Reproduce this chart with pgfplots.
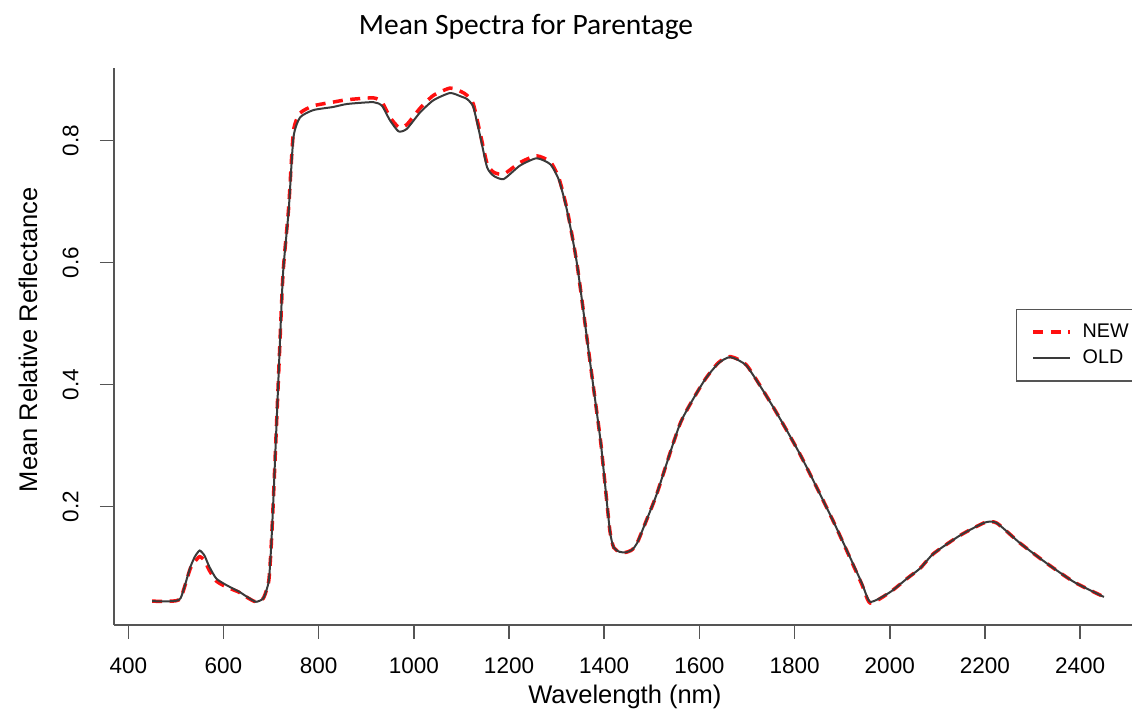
\documentclass[border=0pt]{standalone}
\usepackage{fontspec}
\setmainfont{Liberation Sans}
\newfontfamily\titlefont{Carlito}
\usepackage{pgfplots}
\pgfplotsset{compat=1.18}
\definecolor{oldgray}{HTML}{3A3A3A}
\definecolor{axgray}{HTML}{555555}
\definecolor{newred}{HTML}{FF1010}
\begin{document}
\begin{tikzpicture}
\begin{axis}[
  at={(45.6pt,38pt)}, anchor=south west,
  scale only axis, width=411.2pt, height=222.8pt,
  xmin=370, xmax=2530, ymin=0.006, ymax=0.919,
  axis x line=bottom, axis y line=left,
  axis line style={-, draw=axgray, line width=0.6pt},
  every tick/.style={axgray, line width=0.6pt},
  tick align=outside, major tick length=5.6pt,
  xtick={400,600,...,2400}, ytick={0.2,0.4,0.6,0.8},
  /pgf/number format/assume math mode=true,
  /pgf/number format/1000 sep={},
  yticklabel style={rotate=90, anchor=south, /pgf/number format/fixed, /pgf/number format/precision=1, /pgf/number format/fixed zerofill},
  tick label style={font=\fontsize{9}{10}\selectfont},
  xticklabel shift=4pt, yticklabel shift=5pt,
  xlabel={Wavelength (nm)}, ylabel={Mean Relative Reflectance},
  label style={font=\fontsize{10.2}{12}\selectfont},
  xlabel style={at={(axis description cs:0.497,-0.129)}, anchor=center},
  ylabel style={at={(axis description cs:-0.0837,0.512)}, anchor=center, rotate=0},
  legend style={draw=axgray, line width=0.6pt, at={(0.8774,0.5673)}, anchor=north west,
    font=\fontsize{7.9}{9}\selectfont, inner xsep=6pt, inner ysep=3.5pt, row sep=-0.5pt,
    nodes={inner xsep=4.5pt}},
  legend cell align=left,
  legend image code/.code={\draw[#1] (0pt,0pt) -- (14.5pt,0pt);},
  every axis plot/.append style={smooth, tension=0.35},
]
\addplot[newred, line width=1.4pt, dash pattern=on 4pt off 3pt] coordinates {
(450,0.045)(490,0.045)(510,0.050)(530,0.098)(540,0.110)(550,0.118)(560,0.112)(570,0.096)
(585,0.078)(607,0.068)(632,0.060)(650,0.051)(668,0.044)(684,0.050)(695,0.077)(700,0.131)
(705,0.214)(715,0.40)(725,0.58)(737,0.690)(747,0.815)(761,0.845)(789,0.857)(830,0.863)
(860,0.867)(915,0.870)(933,0.863)(950,0.838)(968,0.822)(985,0.826)(1013,0.853)(1041,0.874)
(1076,0.886)(1100,0.880)(1112,0.874)(1125,0.860)(1140,0.810)(1154,0.762)(1168,0.748)(1189,0.745)
(1223,0.764)(1258,0.775)(1287,0.765)(1305,0.738)(1322,0.687)(1343,0.597)(1371,0.433)(1392,0.310)
(1399,0.258)(1412,0.160)(1420,0.133)(1432,0.126)(1445,0.125)(1458,0.129)(1469,0.140)(1490,0.180)(1511,0.222)
(1560,0.337)(1609,0.405)(1640,0.436)(1665,0.446)(1700,0.431)(1756,0.362)(1812,0.285)(1882,0.175)
(1940,0.075)(1959,0.042)(2001,0.060)(2036,0.082)(2064,0.099)(2092,0.123)(2148,0.153)(2200,0.174)
(2225,0.173)(2274,0.140)(2330,0.107)(2386,0.077)(2442,0.055)(2450,0.052)
};
\addlegendentry{\makebox[34pt][l]{NEW}}
\addplot[oldgray, line width=0.8pt] coordinates {
(450,0.045)(490,0.045)(510,0.050)(530,0.100)(540,0.118)(550,0.128)(560,0.120)(570,0.102)
(585,0.082)(607,0.071)(632,0.061)(650,0.052)(668,0.044)(684,0.050)(695,0.077)(700,0.131)
(705,0.214)(715,0.40)(725,0.58)(737,0.685)(747,0.805)(761,0.838)(789,0.850)(830,0.855)
(860,0.860)(915,0.863)(933,0.857)(950,0.833)(968,0.815)(985,0.819)(1013,0.846)(1041,0.866)
(1076,0.878)(1100,0.872)(1112,0.868)(1125,0.855)(1140,0.805)(1154,0.756)(1168,0.742)(1189,0.737)
(1223,0.759)(1258,0.771)(1287,0.761)(1305,0.735)(1322,0.685)(1343,0.597)(1371,0.433)(1392,0.310)
(1399,0.258)(1412,0.160)(1420,0.133)(1432,0.126)(1445,0.125)(1458,0.129)(1469,0.140)(1490,0.180)(1511,0.222)
(1560,0.337)(1609,0.405)(1640,0.435)(1665,0.445)(1700,0.430)(1756,0.362)(1812,0.285)(1882,0.175)
(1940,0.077)(1959,0.044)(2001,0.060)(2036,0.082)(2064,0.099)(2092,0.123)(2148,0.153)(2200,0.174)
(2225,0.173)(2274,0.140)(2330,0.107)(2386,0.077)(2442,0.055)(2450,0.052)
};
\addlegendentry{OLD}
\end{axis}
\node[font=\titlefont\fontsize{11.8}{14}\selectfont, anchor=center] at (210.4pt,277.2pt) {Mean Spectra for Parentage};
\pgfresetboundingbox
\path[use as bounding box] (0pt,0pt) rectangle (452.8pt,288pt);
\end{tikzpicture}
\end{document}
